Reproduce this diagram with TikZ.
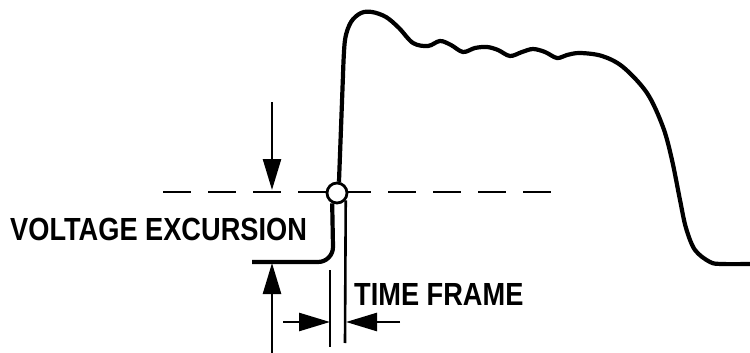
\documentclass[tikz,border=0pt]{standalone}
\usepackage{fontspec}
\usetikzlibrary{arrows.meta}
\newfontfamily\lblfont[FakeStretch=0.85]{Liberation Sans}

\begin{document}
\begin{tikzpicture}[
  x=1pt, y=-1pt,
  wave/.style     = {draw=black, line width=4.2pt, line join=round},
  dashline/.style = {draw=black, line width=2.8pt, dash pattern=on 28pt off 17pt},
  dimline/.style  = {draw=black, line width=2.6pt},
  dimarrow/.style = {-{Triangle[length=31pt, width=18pt]}, draw=black, line width=2.6pt},
  xmark/.style    = {circle, draw=black, fill=white, line width=2.8pt,
                     minimum size=20pt, inner sep=0pt},
  lbl/.style      = {font=\lblfont\bfseries\fontsize{32}{32}\selectfont, inner sep=0pt},
]
  \useasboundingbox (0,0) rectangle (750,353);

  % ------------------------------------------------------------ threshold
  \draw[dashline] (163,192) -- (567,192);
  \node[xmark] (xpt) at (337,193) {};

  % ------------------------------------------------------------- waveform
  \draw[wave] (252,262) -- (318,262) to[out=0, in=-90] (333,247) -- (xpt.-115);
  \draw[wave] (xpt.80) -- (343,75)
    plot[smooth, tension=0.55] coordinates {
      (343,75) (345,40) (351,22) (361,13) (372,12) (386,17) (399,28)
      (413,43) (428,46) (440,41) (451,45) (463,52) (475,48) (487,47)
      (498,50) (510,56) (522,52) (533,49) (545,52) (557,58) (567,55)
      (580,53) (602,56) (623,67) (647,93) (663,127) (672,160) (680,200)
      (686,228) (695,250) (710,262) (722,264) (750,264)};

  % ------------------------------------------------------- time frame legs
  \coordinate (tfR) at (345,343);
  \coordinate (tfLtop) at (330,270);
  \coordinate (tfLbot) at (330,347);
  \draw[dimline] (xpt.-40) -- (tfR);
  \draw[dimline] (tfLtop) -- (tfLbot);

  % ------------------------------------------------------------ dimensions
  \coordinate (vtop) at (272,102);
  \coordinate (vdash) at (272,190);
  \coordinate (vbot) at (272,353);
  \coordinate (vbase) at (272,263);
  \draw[dimarrow] (vtop) -- (vdash);
  \draw[dimarrow] (vbot) -- (vbase);

  \coordinate (tin) at (283,322);
  \coordinate (tinTip) at (330,322);
  \coordinate (tout) at (400,322);
  \coordinate (toutTip) at (346,322);
  \draw[dimarrow] (tin) -- (tinTip);
  \draw[dimarrow] (tout) -- (toutTip);

  % ---------------------------------------------------------------- labels
  \node[lbl, anchor=west] (volt) at (10,229) {VOLTAGE EXCURSION};
  \node[lbl, anchor=west] (tframe) at (354,294) {TIME FRAME};

\end{tikzpicture}
\end{document}
